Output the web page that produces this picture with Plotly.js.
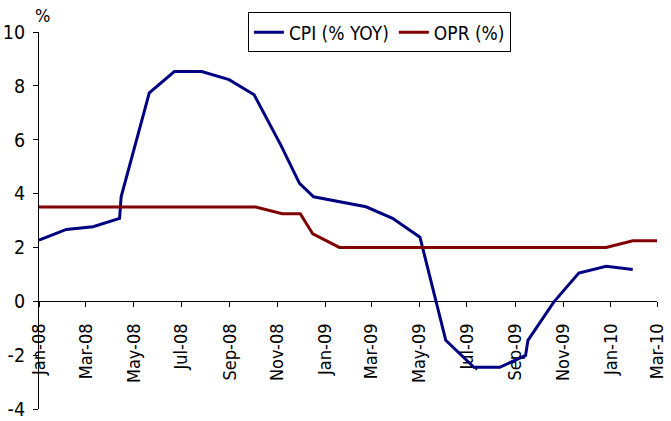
<!DOCTYPE html>
<html>
<head>
<meta charset="utf-8">
<script src="https://cdn.plot.ly/plotly-3.0.1.min.js"></script>
<style>html,body{margin:0;padding:0;background:#fff;}#chart{width:671px;height:421px;}</style>
</head>
<body>
<div id="chart"></div>
<script>
// CPI (% YOY) readings
var cpiDates = ["2008-01-01","2008-02-05","2008-03-10","2008-04-13","2008-04-15","2008-05-21","2008-06-22","2008-07-27","2008-08-31","2008-10-02","2008-11-05","2008-11-29","2008-12-17","2009-02-22","2009-03-28","2009-05-02","2009-06-04","2009-07-10","2009-08-12","2009-09-14","2009-09-17","2009-10-20","2009-11-21","2009-12-26","2010-01-29"];
var cpiValues = [2.27, 2.67, 2.77, 3.08, 3.88, 7.74, 8.53, 8.53, 8.23, 7.67, 5.81, 4.38, 3.88, 3.51, 3.08, 2.38, -1.45, -2.45, -2.45, -2.01, -1.45, -0.03, 1.05, 1.30, 1.18];

// OPR (%) readings
var oprDates = ["2008-01-01","2008-10-04","2008-11-07","2008-11-30","2008-12-16","2009-01-19","2009-12-26","2010-01-29","2010-03-01"];
var oprValues = [3.5, 3.5, 3.25, 3.25, 2.5, 2.0, 2.0, 2.25, 2.25];

// axis ticks
var xTickVals = ["2008-01-01","2008-03-01","2008-05-01","2008-07-01","2008-09-01","2008-11-01","2009-01-01","2009-03-01","2009-05-01","2009-07-01","2009-09-01","2009-11-01","2010-01-01","2010-03-01"];
var xTickText = ["Jan-08","Mar-08","May-08","Jul-08","Sep-08","Nov-08","Jan-09","Mar-09","May-09","Jul-09","Sep-09","Nov-09","Jan-10","Mar-10"];
var yTickVals = [-4, -2, 0, 2, 4, 6, 8, 10];
var yTickText = ["-4", "-2", "0", "2", "4", "6", "8", "10"];

var FONT = "'DejaVu Sans Condensed', 'DejaVu Sans', sans-serif";

var traces = [
  {x: cpiDates, y: cpiValues, type: "scatter", mode: "lines", name: "CPI (% YOY)",
   line: {color: "#000080", width: 3}},
  {x: oprDates, y: oprValues, type: "scatter", mode: "lines", name: "OPR (%)",
   line: {color: "#800000", width: 3}}
];

var layout = {
  width: 671, height: 421,
  margin: {l: 39, r: 14, t: 32, b: 12},
  paper_bgcolor: "#fff", plot_bgcolor: "#fff",
  font: {family: FONT, size: 17, color: "#000"},
  showlegend: true,
  legend: {orientation: "h", x: 0.338, y: 1.052, xanchor: "left", yanchor: "top",
           bordercolor: "#000", borderwidth: 1, bgcolor: "#fff",
           font: {family: FONT, size: 19, color: "#000"}, tracegroupgap: 0},
  xaxis: {type: "date", range: ["2008-01-01", "2010-03-01"], anchor: "free", position: 4/14,
          tickmode: "array", tickvals: xTickVals, ticktext: xTickText, tickangle: -90,
          showline: true, linecolor: "#000", linewidth: 1, ticks: "outside", ticklen: 5,
          tickcolor: "#000", showgrid: false, zeroline: false, layer: "below traces",
          ticklabelstandoff: 9,
          tickfont: {family: FONT, size: 18, color: "#000"}},
  yaxis: {range: [-4, 10], tickmode: "array", tickvals: yTickVals, ticktext: yTickText,
          showline: true, linecolor: "#000", linewidth: 1, ticks: "outside", ticklen: 5,
          tickcolor: "#000", showgrid: false, zeroline: false, ticklabelstandoff: 4,
          tickfont: {family: FONT, size: 19.5, color: "#000"}},
  annotations: [{text: "%", xref: "paper", yref: "paper", x: -0.01, y: 1.045,
                 xanchor: "left", yanchor: "middle", showarrow: false,
                 font: {family: FONT, size: 18, color: "#000"}}]
};

Plotly.newPlot("chart", traces, layout, {displayModeBar: false, staticPlot: true});
</script>
</body>
</html>
